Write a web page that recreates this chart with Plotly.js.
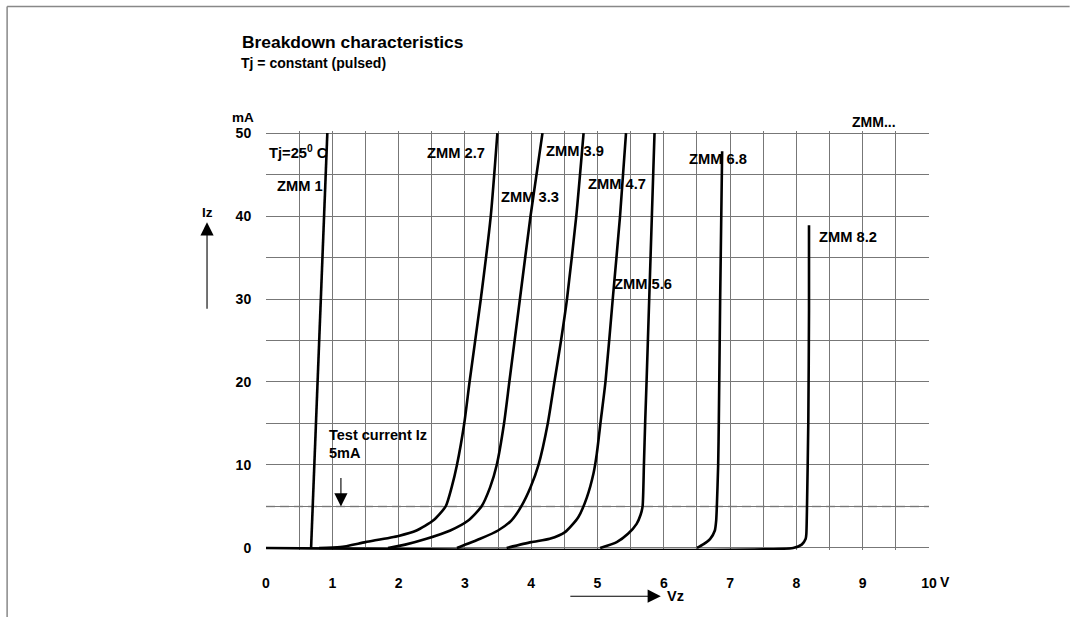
<!DOCTYPE html>
<html>
<head>
<meta charset="utf-8">
<script src="https://cdn.plot.ly/plotly-3.0.1.min.js"></script>
<style>html,body{margin:0;padding:0;background:#fff;}#chart{width:1070px;height:617px;}</style>
</head>
<body>
<div id="chart"></div>
<script>
// ---- data (Vz in volts, Iz in mA) ----
const seriesNames = ["ZMM 1","ZMM 2.7","ZMM 3.3","ZMM 3.9","ZMM 4.7","ZMM 5.6","ZMM 6.8","ZMM 8.2"];
const zmm1_v  = [0.68, 0.925];
const zmm1_i  = [0, 50];
const zmm27_v = [0.80, 1.12, 1.50, 2.00, 2.27, 2.52, 2.71, 2.80, 2.88, 2.99, 3.07, 3.24, 3.39, 3.49];
const zmm27_i = [0, 0.1, 0.7, 1.45, 2.1, 3.3, 5, 7.3, 10, 15, 20, 30, 40, 50];
const zmm33_v = [1.84, 2.10, 2.42, 2.78, 3.05, 3.25, 3.38, 3.48, 3.59, 3.67, 3.83, 3.99, 4.17];
const zmm33_i = [0, 0.4, 1.1, 2.1, 3.3, 5, 7.3, 10, 15, 20, 30, 40, 50];
const zmm39_v = [2.88, 3.23, 3.50, 3.70, 3.85, 3.99, 4.11, 4.25, 4.35, 4.45, 4.54, 4.68, 4.79];
const zmm39_i = [0, 1.1, 2.1, 3.3, 5, 7.3, 10, 15, 20, 25, 30, 40, 50];
const zmm47_v = [3.63, 4.00, 4.28, 4.51, 4.71, 4.84, 4.94, 4.99, 5.05, 5.12, 5.23, 5.34, 5.43];
const zmm47_i = [0, 0.7, 1.1, 1.9, 3.7, 6.1, 9.0, 11.4, 15.4, 20, 30, 40, 50];
const zmm56_v = [5.04, 5.29, 5.46, 5.59, 5.65, 5.68, 5.70, 5.72, 5.74, 5.78, 5.82, 5.86];
const zmm56_i = [0, 0.7, 1.7, 2.9, 4.0, 5, 10, 15.4, 20, 30, 40, 50];
const zmm68_v = [6.50, 6.60, 6.70, 6.77, 6.79, 6.80, 6.82, 6.83, 6.85, 6.88];
const zmm68_i = [0, 0.45, 1.1, 2.1, 3.3, 5, 10, 15.4, 30, 47.8];
const zmm82_v = [0, 7.95, 8.08, 8.14, 8.15, 8.16, 8.18, 8.19, 8.19];
const zmm82_i = [0, 0, 0.4, 1.1, 1.7, 5, 15.4, 28.6, 38.9];
const testCurrent = 5;

const xTickVals = [0,1,2,3,4,5,6,7,8,9,10];
const xTickText = ["0","1","2","3","4","5","6","7","8","9","10"];
const yTickVals = [0,10,20,30,40,50];

// label anchor points (left edge, vertical centre) in data units
const labelText = ["Tj=25<sup>0</sup> C","ZMM 1","ZMM 2.7","ZMM 3.3","ZMM 3.9","ZMM 4.7","ZMM 5.6","ZMM 6.8","ZMM 8.2"];
const labelX    = [0.02, 0.14, 2.40, 3.51, 4.20, 4.82, 5.22, 6.35, 8.31];
const labelY    = [47.7, 43.6, 47.6, 42.3, 47.9, 43.9, 31.8, 46.9, 37.5];

// ---- layout helpers (pixel -> paper) ----
const L = 266, W = 663.3, T = 130.6, H = 419.2;
const px = x => (x - L) / W;
const py = y => (T + H - y) / H;
const FONT = "Liberation Sans, Arial, Helvetica, sans-serif";
const GRID = "#777";

const vs = [zmm1_v,zmm27_v,zmm33_v,zmm39_v,zmm47_v,zmm56_v,zmm68_v,zmm82_v];
const is = [zmm1_i,zmm27_i,zmm33_i,zmm39_i,zmm47_i,zmm56_i,zmm68_i,zmm82_i];
const traces = seriesNames.map((n,k) => ({
  type: "scatter", mode: "lines", name: n, x: vs[k], y: is[k],
  line: {color: "#000", width: 2.6, shape: "spline", smoothing: 0.6},
  hoverinfo: "skip", showlegend: false
}));

const annotations = [];
labelText.forEach((t,k) => annotations.push({
  xref:"x", yref:"y", x: labelX[k], y: labelY[k], text: t, showarrow:false,
  xanchor:"left", yanchor:"middle", font:{family:FONT, size:14.7, weight:"bold", color:"#000"}
}));
const paperText = (t, x, y, size, anchor) => annotations.push({
  xref:"paper", yref:"paper", x: px(x), y: py(y), text: t, showarrow:false,
  xanchor: anchor || "left", yanchor:"middle", font:{family:FONT, size:size, weight:"bold", color:"#000"}
});
paperText("Breakdown characteristics", 240, 42, 17.4);
paperText("Tj = constant (pulsed)", 239, 62.5, 14);
paperText("mA", 256, 117, 13.5, "right");
paperText("ZMM...", 850, 121.5, 14);
paperText("Iz", 207, 212, 13.5, "center");
paperText("Vz", 665, 596, 14.5);
paperText("V", 938, 582, 14);
paperText("Test current Iz", 327.5, 435, 14.5);
paperText("5mA", 327.5, 453, 14.5);

// arrows
annotations.push({xref:"paper", yref:"paper", x: px(207), y: py(222), ax: 0, ay: 88, text:"",
  showarrow:true, arrowhead:2, arrowsize:2.4, arrowwidth:1.1, arrowcolor:"#000"});
annotations.push({xref:"paper", yref:"paper", x: px(661), y: py(596), ax: -92, ay: 0, text:"",
  showarrow:true, arrowhead:2, arrowsize:2.4, arrowwidth:1.1, arrowcolor:"#000"});
annotations.push({xref:"x", yref:"y", x: 1.13, y: testCurrent, ax: 0, ay: -30, text:"",
  showarrow:true, arrowhead:2, arrowsize:2.4, arrowwidth:1.1, arrowcolor:"#000"});

const shapes = [
  {type:"line", xref:"paper", yref:"y", x0:0, x1:1, y0:testCurrent, y1:testCurrent,
   line:{color:"#999", width:1.5, dash:"9px,5px"}, layer:"below"},
  {type:"line", xref:"paper", yref:"paper", x0:px(7), x1:px(1070), y0:py(6), y1:py(6), line:{color:"#888", width:1.5}},
  {type:"line", xref:"paper", yref:"paper", x0:px(7), x1:px(7), y0:py(6), y1:py(617), line:{color:"#888", width:1.5}}
];

const layout = {
  width: 1070, height: 617,
  margin: {l: L, r: 1070 - L - W, t: T, b: 617 - T - H, pad: 0},
  paper_bgcolor: "#fff", plot_bgcolor: "#fff",
  showlegend: false,
  xaxis: {range:[0,10], tickvals:xTickVals, ticktext:xTickText, showgrid:true, gridcolor:GRID, gridwidth:1,
    minor:{dtick:0.5, tick0:0, showgrid:true, gridcolor:GRID, gridwidth:1, ticks:""},
    zeroline:false, showline:false, ticks:"outside", ticklen:20, tickcolor:"rgba(0,0,0,0)",
    tickfont:{family:FONT, size:14, weight:"bold", color:"#000"}, fixedrange:true},
  yaxis: {range:[-0.25,50.25], tickvals:yTickVals, showgrid:true, gridcolor:GRID, gridwidth:1,
    minor:{dtick:5, tick0:0, showgrid:true, gridcolor:GRID, gridwidth:1, ticks:""},
    zeroline:false, showline:false, ticks:"outside", ticklen:11, tickcolor:"rgba(0,0,0,0)",
    tickfont:{family:FONT, size:14, weight:"bold", color:"#000"}, fixedrange:true},
  annotations: annotations,
  shapes: shapes
};

Plotly.newPlot("chart", traces, layout, {displayModeBar:false, staticPlot:true});
</script>
</body>
</html>
